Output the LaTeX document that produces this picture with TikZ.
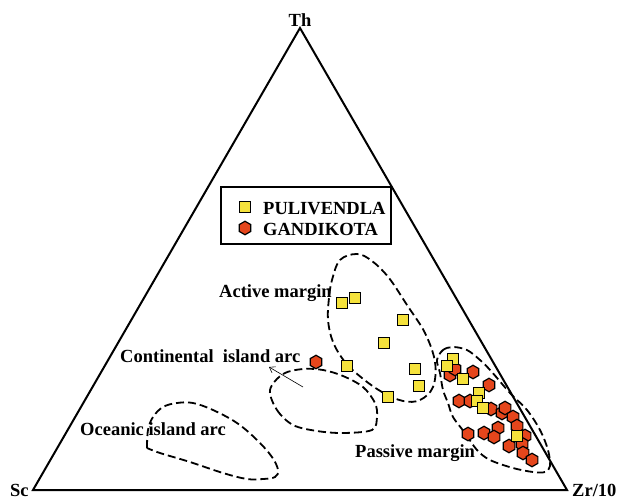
\documentclass[tikz,border=0pt]{standalone}
\usepackage{fontspec}
\setmainfont{Liberation Serif}
\usetikzlibrary{shapes.geometric,arrows.meta}
\definecolor{ptyellow}{HTML}{F5E23C}
\definecolor{ptred}{HTML}{E5461C}
\tikzset{
  lbl/.style={font=\fontsize{18.5}{20}\selectfont\bfseries, inner sep=0pt},
  region/.style={line width=1.8pt, dash pattern=on 8pt off 4pt},
  ysq/.style={rectangle, draw=black, fill=ptyellow, line width=1.3pt, minimum size=11pt, inner sep=0pt},
  rhex/.style={regular polygon, regular polygon sides=6, shape border rotate=30, draw=black, fill=ptred, line width=1.2pt, minimum size=13.5pt, inner sep=0pt},
}
\begin{document}
\begin{tikzpicture}[x=1pt,y=-1pt]
\useasboundingbox (0,0) rectangle (619,499);
% triangle
\coordinate (Sc) at (33,490);
\coordinate (Zr) at (567,490);
\coordinate (Th) at (300,28);
\draw[line width=2pt, line join=miter] (Th) -- (Zr) -- (Sc) -- cycle;
\node[lbl, anchor=base] (lTh) at (300,26) {Th};
\node[lbl, anchor=base west] (lSc) at (10,496) {Sc};
\node[lbl, anchor=base west] (lZr) at (572,496) {Zr/10};

% legend
\node[draw, line width=2pt, minimum width=170pt, minimum height=57pt, anchor=north west, inner sep=0pt] (legend) at (220,186) {};
\node[ysq] (lgsq) at (245,207) {};
\node[rhex] (lghex) at (245,228) {};
\node[lbl, anchor=base west] (lgt1) at (263,214) {PULIVENDLA};
\node[lbl, anchor=base west] (lgt2) at (263,235) {GANDIKOTA};

% regions
\draw[region] plot[smooth cycle, tension=0.6] coordinates {(332,280) (340,260) (357,254) (372,261) (389,278) (407,305) (425,333) (435,362) (433,387) (420,400) (403,401) (382,392) (362,378) (345,362) (333,342) (328,320) (329,298)};
\draw[region] plot[smooth cycle, tension=0.55] coordinates {(270,390) (277,410) (293,425) (317,431) (343,433) (372,430) (377,417) (375,403) (363,387) (343,376) (323,370) (303,369) (283,374)};
\draw[region] plot[smooth, tension=0.6] coordinates {(147,448) (148,430) (153,417) (163,407) (177,403) (193,403) (213,410) (237,423) (257,440) (272,457) (278,470) (275,477) (263,479) (247,479) (223,473) (190,462) (160,453) (147,448)};
\draw[region] plot[smooth cycle, tension=0.55] coordinates {(437,360) (443,350) (453,347) (467,350) (480,360) (491,371) (510,393) (527,410) (540,430) (548,450) (550,466) (545,472) (533,472) (513,468) (490,460) (477,450) (465,433) (453,417) (448,403) (443,390) (440,373)};

% labels
\node[lbl, anchor=base west] (lAct) at (219,297) {Active margin};
\node[lbl, anchor=base west] (lCon) at (120,362) {Continental\ \ island arc};
\node[lbl, anchor=base west] (lOce) at (80,435) {Oceanic island arc};
\node[lbl, anchor=base west] (lPas) at (355,457) {Passive margin};

% arrow
\coordinate (arS) at (303,387);
\coordinate (arE) at (269,367);
\draw[line width=0.6pt, -{Straight Barb[length=5pt,width=7pt]}] (arS) -- (arE);

% data: GANDIKOTA
\foreach \p [count=\i] in {(316,362),(450,375),(455,369),(473,372),(489,385),(459,401),(470,401),(491,409),(502,413),(505,408),(513,417),(517,426),(525,436),(522,444),(509,446),(484,433),(498,428),(494,437),(468,434),(523,453),(532,460)}
  \node[rhex] (g\i) at \p {};
% data: PULIVENDLA
\foreach \p [count=\i] in {(342,303),(355,298),(403,320),(384,343),(347,366),(415,369),(419,386),(388,397),(453,359),(447,366),(463,379),(479,393),(477,401),(483,408),(517,436)}
  \node[ysq] (p\i) at \p {};
\end{tikzpicture}
\end{document}
